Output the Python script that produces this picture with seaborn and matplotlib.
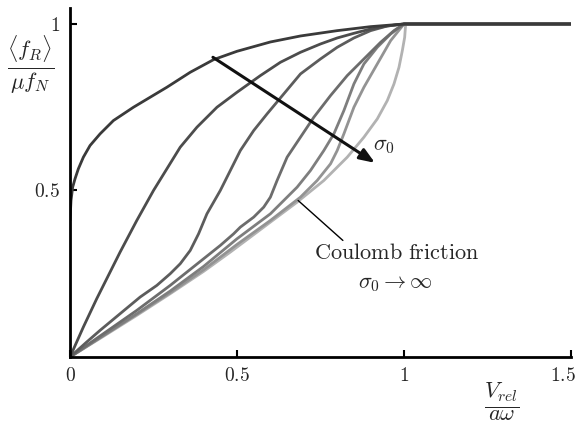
import matplotlib
matplotlib.use("Agg")
import matplotlib.pyplot as plt
import matplotlib.transforms as mtransforms
import seaborn as sns
import pandas as pd

# ---- data ----
c1_x = [0.0, 0.003, 0.008, 0.015, 0.025, 0.04, 0.06, 0.09, 0.13, 0.19, 0.24, 0.29, 0.36,
        0.43, 0.5, 0.6, 0.69, 0.8, 0.9, 1.0, 1.5]
c1_y = [0.41, 0.47, 0.51, 0.535, 0.565, 0.60, 0.635, 0.67, 0.71, 0.75, 0.78, 0.81, 0.855,
        0.893, 0.918, 0.946, 0.964, 0.98, 0.992, 1.0, 1.0]

c2_x = [0.0, 0.04, 0.08, 0.12, 0.15, 0.2, 0.25, 0.29, 0.33, 0.38, 0.44, 0.5, 0.57, 0.63,
        0.69, 0.75, 0.8, 0.85, 0.9, 0.95, 1.0, 1.5]
c2_y = [0.0, 0.09, 0.175, 0.255, 0.315, 0.41, 0.5, 0.565, 0.63, 0.69, 0.75, 0.795, 0.845,
        0.885, 0.915, 0.94, 0.958, 0.972, 0.985, 0.994, 1.0, 1.0]

c3_x = [0.0, 0.05, 0.09, 0.15, 0.21, 0.26, 0.3, 0.33, 0.36, 0.385, 0.41, 0.45, 0.48, 0.51,
        0.55, 0.59, 0.64, 0.69, 0.75, 0.8, 0.85, 0.9, 0.95, 1.0, 1.5]
c3_y = [0.0, 0.045, 0.08, 0.13, 0.18, 0.215, 0.25, 0.28, 0.32, 0.37, 0.43, 0.50, 0.56, 0.62,
        0.68, 0.73, 0.79, 0.85, 0.895, 0.93, 0.958, 0.98, 0.994, 1.0, 1.0]

c4_x = [0.0, 0.1, 0.2, 0.3, 0.4, 0.45, 0.49, 0.51, 0.55, 0.58, 0.6, 0.62, 0.65, 0.69, 0.73,
        0.78, 0.83, 0.88, 0.93, 0.97, 1.0, 1.5]
c4_y = [0.0, 0.07, 0.14, 0.215, 0.295, 0.335, 0.37, 0.39, 0.42, 0.45, 0.48, 0.53, 0.60, 0.66,
        0.72, 0.785, 0.845, 0.895, 0.945, 0.98, 1.0, 1.0]

c5_x = [0.0, 0.1, 0.2, 0.3, 0.4, 0.5, 0.6, 0.68, 0.72, 0.76, 0.79, 0.82, 0.85, 0.88, 0.92,
        0.96, 1.0, 1.5]
c5_y = [0.0, 0.065, 0.13, 0.198, 0.272, 0.355, 0.43, 0.51, 0.56, 0.62, 0.67, 0.74, 0.82, 0.88,
        0.93, 0.97, 1.0, 1.0]

c6_x = [0.0, 0.1, 0.2, 0.3, 0.4, 0.5, 0.6, 0.69, 0.74, 0.78, 0.8, 0.82, 0.85, 0.88, 0.92,
        0.96, 1.0, 1.5]
c6_y = [0.0, 0.064, 0.128, 0.193, 0.262, 0.338, 0.41, 0.48, 0.53, 0.58, 0.62, 0.67, 0.75, 0.81,
        0.88, 0.95, 1.0, 1.0]

c7_x = [0.0, 0.1, 0.2, 0.3, 0.4, 0.48, 0.58, 0.68, 0.76, 0.83, 0.88, 0.92, 0.95, 0.97, 0.985,
        0.995, 1.002, 1.005, 1.5]
c7_y = [0.0, 0.062, 0.125, 0.19, 0.257, 0.315, 0.39, 0.465, 0.53, 0.60, 0.66, 0.715, 0.77,
        0.82, 0.87, 0.92, 0.96, 1.0, 1.0]

curve_names = ["c1", "c2", "c3", "c4", "c5", "c6", "c7"]
curve_colors = ["#3a3a3a", "#4c4c4c", "#5c5c5c", "#6c6c6c", "#7e7e7e", "#939393", "#b2b2b2"]

x_ticks = [0, 0.5, 1, 1.5]
x_tick_labels = ["$0$", "$0.5$", "$1$", "$1.5$"]
y_ticks = [0.5, 1]
y_tick_labels = ["$0.5$", "$1$"]

# ---- build frames ----
xs = [c1_x, c2_x, c3_x, c4_x, c5_x, c6_x, c7_x]
ys = [c1_y, c2_y, c3_y, c4_y, c5_y, c6_y, c7_y]
frames = [pd.DataFrame({"x": x, "y": y, "curve": n}) for n, x, y in zip(curve_names, xs, ys)]

sns.set_style("ticks")
plt.rcParams["font.family"] = ["DejaVu Serif"]
plt.rcParams["mathtext.fontset"] = "cm"

fig = plt.figure(figsize=(5.8, 4.28), dpi=100)
ax = fig.add_axes([70 / 580, (428 - 357) / 428, 501 / 580, 349 / 428])

# draw lightest first so darkest ends on top
for df, col in reversed(list(zip(frames, curve_colors))):
    sns.lineplot(data=df, x="x", y="y", color=col, lw=2.0, sort=False,
                 estimator=None, ax=ax, legend=False)

ax.set_xlim(0, 1.5)
ax.set_ylim(0, 1.048)
ax.set_xticks(x_ticks)
ax.set_xticklabels(x_tick_labels, fontsize=14)
ax.set_yticks(y_ticks)
ax.set_yticklabels(y_tick_labels, fontsize=14)
ax.tick_params(direction="in", length=5, width=1.5, color="black", pad=7)
# last x label sits slightly left of its tick, as in the reference
last = ax.get_xticklabels()[-1]
last.set_transform(last.get_transform() + mtransforms.ScaledTranslation(-8 / 100, 0, fig.dpi_scale_trans))
for s in ["top", "right"]:
    ax.spines[s].set_visible(False)
for s in ["left", "bottom"]:
    ax.spines[s].set_linewidth(2)
    ax.spines[s].set_color("black")
ax.set_xlabel("")
ax.set_ylabel("")

# axis labels as fractions
fig.text(31 / 580, 1 - 65 / 428, r"$\frac{\langle f_R\rangle}{\mu f_N}$", fontsize=23,
         ha="center", va="center")
fig.text(502 / 580, 1 - 402 / 428, r"$\frac{V_{rel}}{a\omega}$", fontsize=23,
         ha="center", va="center")

# arrow for sigma_0
ax.annotate("", xy=(0.913, 0.583), xytext=(0.428, 0.90),
            arrowprops=dict(arrowstyle="-|>,head_length=0.9,head_width=0.35",
                            color="#111111", lw=2.2, shrinkA=0, shrinkB=0))
ax.text(0.94, 0.637, r"$\sigma_0$", fontsize=16, ha="center", va="center")

# Coulomb annotation
ax.plot([0.683, 0.817], [0.47, 0.35], color="black", lw=1.0)
ax.text(0.979, 0.312, r"$\mathrm{Coulomb\ friction}$", fontsize=16, ha="center", va="center")
ax.text(0.973, 0.222, r"$\sigma_0\rightarrow\infty$", fontsize=16, ha="center", va="center")

fig.savefig("out.png", dpi=100)
